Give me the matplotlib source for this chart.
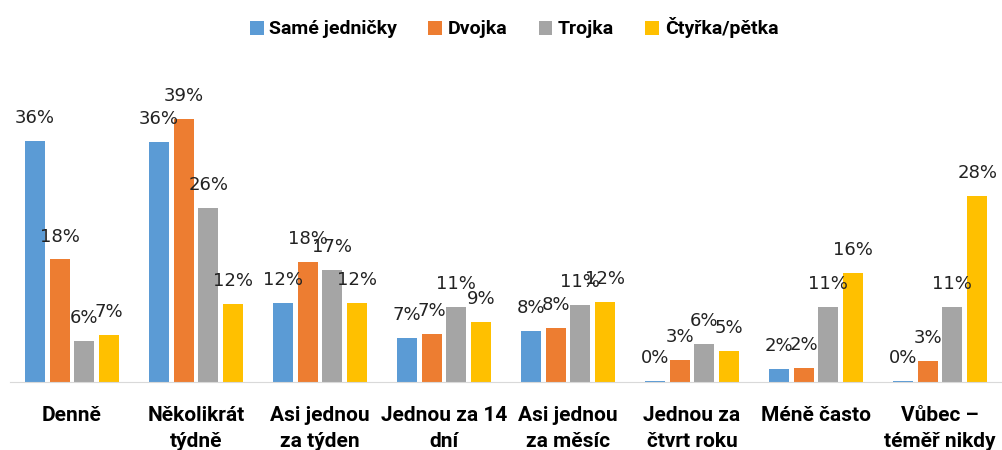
import matplotlib.pyplot as plt
import numpy as np

# categories along the x axis
categories = ['Denně', 'Několikrát\ntýdně', 'Asi jednou\nza týden', 'Jednou za 14\ndní',
              'Asi jednou\nza měsíc', 'Jednou za\nčtvrt roku', 'Méně často', 'Vůbec –\ntéměř nikdy']
series_names = ['Samé jedničky', 'Dvojka', 'Trojka', 'Čtyřka/pětka']
colors = ['#5B9BD5', '#ED7D31', '#A5A5A5', '#FFC000']

# values in %
jednicky = [35.8, 35.6, 11.7, 6.6, 7.6, 0.2, 1.9, 0.2]
dvojka = [18.2, 39.0, 17.8, 7.1, 8.0, 3.3, 2.1, 3.1]
trojka = [6.1, 25.8, 16.6, 11.1, 11.4, 5.6, 11.1, 11.1]
ctyrka = [7.0, 11.6, 11.7, 8.9, 11.9, 4.6, 16.2, 27.6]
data = [jednicky, dvojka, trojka, ctyrka]

bold_font = ['Roboto', 'DejaVu Sans']

fig = plt.figure(figsize=(10.02, 4.5), dpi=100)
ax = fig.add_axes([10/1002, 68/450, 992/1002, 322/450])

x = np.arange(len(categories))
w = 0.16
for i, (vals, c, name) in enumerate(zip(data, colors, series_names)):
    pos = x + (i - 1.5) * 0.2
    ax.bar(pos, vals, width=w, color=c, label=name)
    for p, v in zip(pos, vals):
        ax.annotate(f'{round(v)}%', (p, v), xytext=(0, 10), textcoords='offset points',
                    ha='center', va='bottom', fontsize=13, color='#222222')

ax.set_xlim(-0.5, len(categories) - 0.5)
ax.set_ylim(0, 47.8)
ax.set_yticks([])
ax.set_xticks(x)
ax.set_xticklabels(categories, family=bold_font, fontsize=15, fontweight='bold',
                   linespacing=1.5, color='black')
ax.tick_params(axis='x', length=0, pad=17)
for s in ['top', 'right', 'left']:
    ax.spines[s].set_visible(False)
ax.spines['bottom'].set_color('#D9D9D9')

leg = fig.legend(loc='upper center', bbox_to_anchor=(0.513, 1.0), ncol=4, frameon=False,
                 prop={'family': bold_font, 'size': 14, 'weight': 'bold'},
                 handlelength=0.7, handleheight=0.7, handletextpad=0.3, columnspacing=1.6)

fig.savefig('out.png', dpi=100)
